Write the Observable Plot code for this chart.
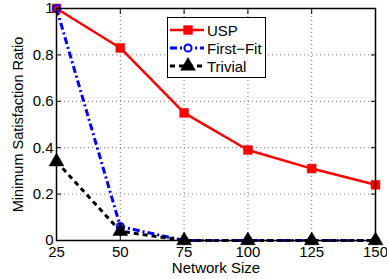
<!DOCTYPE html>
<html>
<head>
<meta charset="utf-8">
<script src="https://cdn.jsdelivr.net/npm/d3@7"></script>
<script src="https://cdn.jsdelivr.net/npm/@observablehq/plot@0.6"></script>
<style>
  html, body { margin: 0; padding: 0; background: #fff; }
  #wrap { position: relative; width: 387px; height: 279px; font-family: "Liberation Sans", Arial, sans-serif; }
  #legend { position: absolute; left: 167px; top: 17px; width: 97px; height: 59px; border: 1px solid #000; background: #fff; }
  .row { position: absolute; left: 0; height: 18px; display: flex; align-items: center; font-size: 15px; color: #000; }
  .row svg { display: block; }
</style>
</head>
<body>
<div id="wrap"></div>
<script>
const networkSizes = [25, 50, 75, 100, 125, 150];
const usp = [1.0, 0.83, 0.55, 0.39, 0.31, 0.24];
const firstFit = [1.0, 0.06, 0.0, 0.0, 0.0, 0.0];
const trivial = [0.34, 0.04, 0.0, 0.0, 0.0, 0.0];
const seriesNames = ["USP", "First\u2212Fit", "Trivial"];
const yTicks = [0, 0.2, 0.4, 0.6, 0.8, 1];

const seriesValues = [usp, firstFit, trivial];
const styles = [
  {color: "#ff0000", dash: null, symbol: "square", r: 5, fill: "#ff0000", width: 2.5},
  {color: "#0000ff", dash: "7,3,2,3", symbol: "circle", r: 3.6, fill: "none", width: 3},
  {color: "#000000", dash: "5,4", symbol: "triangle", r: 5.5, fill: "#000000", width: 3}
];

const data = [];
seriesNames.forEach((name, i) => {
  networkSizes.forEach((n, j) => data.push({series: name, size: n, value: seriesValues[i][j], k: i}));
});

const marks = [
  Plot.gridX(networkSizes.slice(1, -1), {stroke: "#777", strokeOpacity: 1, strokeWidth: 1, strokeDasharray: "1,3"}),
  Plot.gridY(yTicks.slice(1, -1), {stroke: "#777", strokeOpacity: 1, strokeWidth: 1, strokeDasharray: "1,3"}),
  Plot.axisX({ticks: networkSizes, tickSize: -5, tickPadding: 11, fontSize: 15, label: null}),
  Plot.axisX({ticks: [], tickSize: 0, fontSize: 15, label: "Network Size", labelAnchor: "center", labelArrow: "none", labelOffset: 32}),
  Plot.axisX({anchor: "top", ticks: networkSizes, tickSize: -5, tickFormat: () => "", label: null}),
  Plot.axisY({ticks: yTicks, tickSize: -5, tickPadding: 8, tickFormat: d => String(d), fontSize: 15, label: null}),
  Plot.axisY({ticks: [], tickSize: 0, fontSize: 14.5, label: "Minimum Satisfaction Ratio", labelAnchor: "center", labelArrow: "none", labelOffset: 44}),
  Plot.axisY({anchor: "right", ticks: yTicks, tickSize: -5, tickFormat: () => "", label: null})
];
seriesNames.forEach((name, i) => {
  const s = styles[i];
  const d = data.filter(r => r.k === i);
  marks.push(Plot.line(d, {x: "size", y: "value", stroke: s.color, strokeWidth: s.width, strokeDasharray: s.dash, strokeLinejoin: "round", strokeLinecap: "butt"}));
});
seriesNames.forEach((name, i) => {
  const s = styles[i];
  const d = data.filter(r => r.k === i);
  marks.push(Plot.dot(d, {x: "size", y: "value", symbol: () => s.symbol, r: s.r, fill: s.fill, stroke: s.color, strokeWidth: s.fill === "none" ? 2 : 0.5}));
});
marks.push(Plot.frame({stroke: "#000", strokeWidth: 1.5}));

const chart = Plot.plot({
  width: 387,
  height: 279,
  marginLeft: 56,
  marginRight: 12,
  marginTop: 8,
  marginBottom: 39,
  style: {fontFamily: "Liberation Sans, Arial, sans-serif", fontSize: "15px", color: "#000", background: "#fff"},
  x: {domain: [25, 150]},
  y: {domain: [0, 1]},
  marks
});
const wrap = document.getElementById("wrap");
wrap.appendChild(chart);

// legend
const legend = document.createElement("div");
legend.id = "legend";
const rowTops = [3, 21, 39];
seriesNames.forEach((name, i) => {
  const s = styles[i];
  const row = document.createElement("div");
  row.className = "row";
  row.style.top = rowTops[i] + "px";
  const ns = "http://www.w3.org/2000/svg";
  const svg = document.createElementNS(ns, "svg");
  svg.setAttribute("width", "39"); svg.setAttribute("height", "18");
  const line = document.createElementNS(ns, "line");
  line.setAttribute("x1", "2"); line.setAttribute("x2", "36"); line.setAttribute("y1", "9"); line.setAttribute("y2", "9");
  line.setAttribute("stroke", s.color); line.setAttribute("stroke-width", s.width);
  if (s.dash) line.setAttribute("stroke-dasharray", s.dash);
  svg.appendChild(line);
  const sym = document.createElementNS(ns, "path");
  const sy = {square: d3.symbolSquare, circle: d3.symbolCircle, triangle: d3.symbolTriangle}[s.symbol];
  sym.setAttribute("d", d3.symbol(sy, s.r * s.r * Math.PI)());
  sym.setAttribute("transform", "translate(20,9)");
  sym.setAttribute("fill", s.fill === "none" ? "#fff" : s.fill);
  sym.setAttribute("stroke", s.color);
  sym.setAttribute("stroke-width", s.fill === "none" ? 2 : 0.5);
  svg.appendChild(sym);
  row.appendChild(svg);
  const t = document.createElement("span");
  t.textContent = name;
  row.appendChild(t);
  legend.appendChild(row);
});
wrap.appendChild(legend);
</script>
</body>
</html>
